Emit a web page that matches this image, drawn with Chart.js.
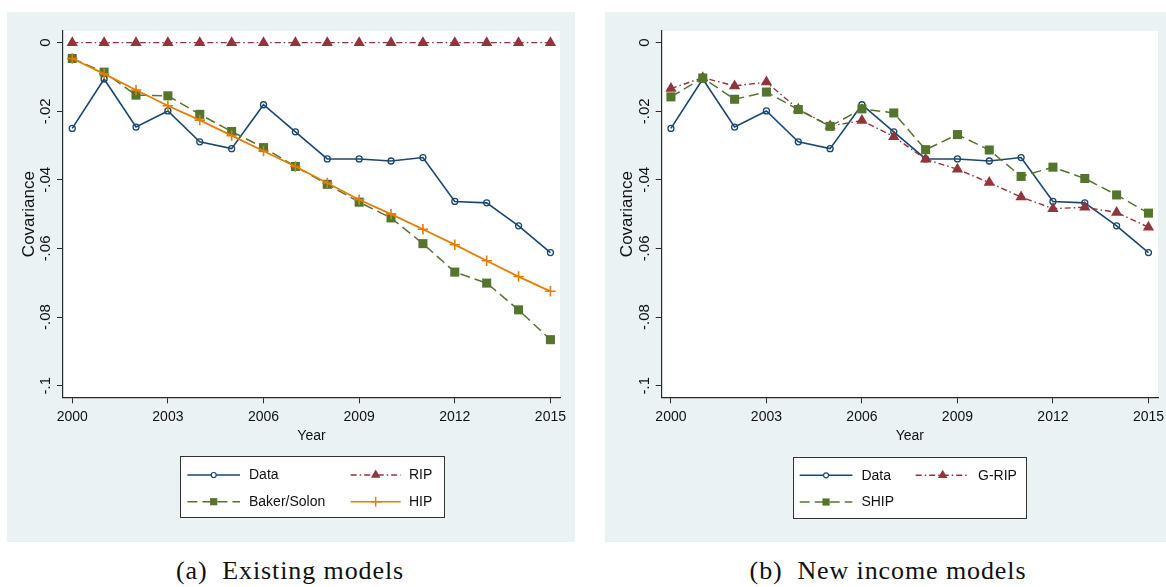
<!DOCTYPE html>
<html>
<head>
<meta charset="utf-8">
<script src="https://cdn.jsdelivr.net/npm/chart.js@4/dist/chart.umd.min.js"></script>
<style>
  html, body { margin: 0; padding: 0; background: #ffffff; }
  body { width: 1166px; height: 587px; position: relative; overflow: hidden; }
  .panel { position: absolute; top: 12px; height: 530px; background: #eaf2f3; }
  .panel canvas { display: block; }
  .caption {
    position: absolute; top: 558px; height: 28px; line-height: 26px;
    font-family: "Liberation Serif", "DejaVu Serif", serif; font-size: 26px;
    color: #111; text-align: center; white-space: pre; letter-spacing: 0.9px;
  }
</style>
</head>
<body>
<div class="panel" style="left:7px;width:568px;"><canvas id="chartA" width="568" height="530"></canvas></div>
<div class="panel" style="left:605px;width:566px;"><canvas id="chartB" width="566" height="530"></canvas></div>
<div class="caption" style="left:140px;width:300px;">(a)  Existing models</div>
<div class="caption" style="left:738px;width:300px;">(b)  New income models</div>

<script>
// Survey years
const years = [2000, 2001, 2002, 2003, 2004, 2005, 2006, 2007, 2008, 2009, 2010, 2011, 2012, 2013, 2014, 2015];

// Covariance series
const dataCov    = [-0.0250, -0.0106, -0.0246, -0.0199, -0.0289, -0.0309, -0.0181, -0.0260, -0.0339, -0.0339, -0.0345, -0.0335, -0.0463, -0.0467, -0.0534, -0.0612];
const bakerSolon = [-0.0046, -0.0086, -0.0153, -0.0155, -0.0209, -0.0259, -0.0306, -0.0361, -0.0413, -0.0465, -0.0511, -0.0586, -0.0669, -0.0701, -0.0779, -0.0866];
const rip        = [0, 0, 0, 0, 0, 0, 0, 0, 0, 0, 0, 0, 0, 0, 0, 0];
const hip        = [-0.0046, -0.0091, -0.0138, -0.0184, -0.0226, -0.0271, -0.0316, -0.0361, -0.0409, -0.0458, -0.0500, -0.0544, -0.0589, -0.0636, -0.0682, -0.0725];
const gRip       = [-0.0134, -0.0102, -0.0126, -0.0115, -0.0194, -0.0243, -0.0227, -0.0274, -0.0340, -0.0369, -0.0408, -0.0450, -0.0484, -0.0480, -0.0495, -0.0538];
const ship       = [-0.0158, -0.0103, -0.0165, -0.0144, -0.0195, -0.0244, -0.0193, -0.0205, -0.0312, -0.0268, -0.0313, -0.0390, -0.0363, -0.0396, -0.0444, -0.0497];

// Axis ticks
const xTickValues = [2000, 2003, 2006, 2009, 2012, 2015];
const yTickValues = [0, -0.02, -0.04, -0.06, -0.08, -0.1];
const yTickLabels = ['0', '-.02', '-.04', '-.06', '-.08', '-.1'];

const NAVY = '#1a476f', MAROON = '#90353b', GREEN = '#55752f', ORANGE = '#e37e00';
const SANS = '"Liberation Sans", Arial, sans-serif';
const AXIS = '#2a2a2a';

const toPoints = vals => years.map((y, i) => ({ x: y, y: vals[i] }));

const styles = {
  data:  { color: NAVY,   width: 1.6, dash: [],            marker: 'circle',   r: 3,   fill: 'rgba(255,255,255,0)', pbw: 1.3 },
  bs:    { color: GREEN,  width: 1.5, dash: [10, 5],       marker: 'rect',     r: 6.4, fill: GREEN, pbw: 1 },
  rip:   { color: MAROON, width: 1.4, dash: [6, 3, 1.5, 3], marker: 'triangle', r: 6.5, fill: MAROON, pbw: 1 },
  hip:   { color: ORANGE, width: 1.8, dash: [],            marker: 'cross',    r: 5.2, fill: ORANGE, pbw: 1.6 }
};

function makeDataset(label, vals, st, order) {
  return {
    label, data: toPoints(vals), order,
    borderColor: st.color, borderWidth: st.width, borderDash: st.dash,
    pointStyle: st.marker, pointRadius: st.r, pointHoverRadius: st.r,
    pointBackgroundColor: st.fill,
    pointBorderColor: st.marker === 'rect' || st.marker === 'triangle' ? 'rgba(150,170,120,0.0)' : st.color,
    pointBorderWidth: st.pbw, tension: 0, fill: false, clip: false,
    _st: st
  };
}

// White plot region on the tinted graph region
const plotRegion = {
  id: 'plotRegion',
  beforeDraw(chart) {
    const { ctx, chartArea: a } = chart;
    ctx.save();
    ctx.fillStyle = '#ffffff';
    ctx.fillRect(a.left, a.top, a.right - a.left, a.bottom - a.top);
    ctx.restore();
  }
};

function drawMarker(ctx, st, x, y, r) {
  ctx.save();
  ctx.setLineDash([]);
  ctx.strokeStyle = st.color;
  ctx.fillStyle = st.color;
  if (st.marker === 'circle') {
    ctx.lineWidth = 1.2;
    ctx.fillStyle = '#fff';
    ctx.beginPath(); ctx.arc(x, y, r, 0, Math.PI * 2); ctx.fill(); ctx.stroke();
  } else if (st.marker === 'rect') {
    ctx.fillRect(x - r, y - r, 2 * r, 2 * r);
  } else if (st.marker === 'triangle') {
    ctx.beginPath();
    for (let k = 0; k < 3; k++) {
      const ang = k * 2 * Math.PI / 3;
      const px = x + Math.sin(ang) * r, py = y - Math.cos(ang) * r;
      k ? ctx.lineTo(px, py) : ctx.moveTo(px, py);
    }
    ctx.closePath(); ctx.fill();
  } else if (st.marker === 'cross') {
    ctx.lineWidth = 1.4;
    ctx.beginPath();
    ctx.moveTo(x - r, y); ctx.lineTo(x + r, y);
    ctx.moveTo(x, y - r); ctx.lineTo(x, y + r);
    ctx.stroke();
  }
  ctx.restore();
}

// Boxed two-column legend under the x-axis title
const boxLegend = {
  id: 'boxLegend',
  afterDraw(chart, args, opts) {
    if (!opts || !opts.items) return;
    const { ctx, chartArea: a } = chart;
    const cx = (a.left + a.right) / 2;
    const bx = Math.round(cx - opts.width / 2), by = Math.round(a.bottom + opts.top);
    ctx.save();
    ctx.fillStyle = '#ffffff';
    ctx.fillRect(bx, by, opts.width, opts.height);
    ctx.strokeStyle = '#333333';
    ctx.lineWidth = 1;
    ctx.strokeRect(bx + 0.5, by + 0.5, opts.width, opts.height);
    ctx.font = '14px ' + SANS;
    ctx.textBaseline = 'middle';
    ctx.textAlign = 'left';
    opts.items.forEach(it => {
      const ds = chart.data.datasets[it.index];
      const st = ds._st;
      const col = opts.cols[it.col];
      const y = by + opts.rows[it.row];
      const x0 = bx + col.sample, x1 = x0 + col.len;
      ctx.save();
      ctx.strokeStyle = st.color;
      ctx.lineWidth = Math.min(st.width, 1.5);
      ctx.setLineDash(st.dash);
      ctx.beginPath(); ctx.moveTo(x0, y); ctx.lineTo(x1, y); ctx.stroke();
      ctx.restore();
      const mr = { circle: 2.5, rect: 3.6, triangle: 5.5, cross: 5 }[st.marker];
      drawMarker(ctx, st, (x0 + x1) / 2, y, mr);
      ctx.fillStyle = '#111';
      ctx.fillText(ds.label, bx + col.text, y + 0.5);
    });
    ctx.restore();
  }
};

function buildChart(canvasId, datasets, legendOpts, layoutRight, yWidth) {
  return new Chart(document.getElementById(canvasId), {
    type: 'line',
    data: { datasets },
    plugins: [plotRegion, boxLegend],
    options: {
      responsive: false, animation: false,
      devicePixelRatio: 1,
      layout: { padding: { top: 19, right: layoutRight, left: 0, bottom: 97.7 } },
      plugins: {
        legend: { display: false }, tooltip: { enabled: false },
        boxLegend: legendOpts
      },
      scales: {
        x: {
          type: 'linear', min: 1999.71, max: 2015.30,
          afterBuildTicks: s => { s.ticks = xTickValues.map(v => ({ value: v })); },
          afterFit: s => { s.height = 47; },
          ticks: { autoSkip: false, maxRotation: 0, padding: 5, color: '#111',
                   font: { family: SANS, size: 14 }, callback: v => String(v) },
          grid: { display: true, drawOnChartArea: false, drawTicks: true, tickLength: 6, color: AXIS, lineWidth: 1 },
          border: { display: true, color: AXIS, width: 1.2 },
          title: { display: true, text: 'Year', color: '#111', padding: { top: 0, bottom: 0 },
                   font: { family: SANS, size: 14 } }
        },
        y: {
          type: 'linear', min: -0.1034, max: 0.0034,
          afterBuildTicks: s => { s.ticks = yTickValues.map(v => ({ value: v })); },
          afterFit: s => { s.width = yWidth; },
          ticks: { autoSkip: false, minRotation: 90, maxRotation: 90, crossAlign: 'center', padding: -2,
                   color: '#111', font: { family: SANS, size: 15 },
                   callback: (v) => { const i = yTickValues.findIndex(t => Math.abs(t - v) < 1e-9); return i >= 0 ? yTickLabels[i] : ''; } },
          grid: { display: true, drawOnChartArea: false, drawTicks: true, tickLength: 6, color: AXIS, lineWidth: 1 },
          border: { display: true, color: AXIS, width: 1.2 },
          title: { display: true, text: 'Covariance', color: '#111', padding: { top: 12.3, bottom: 0 },
                   font: { family: SANS, size: 17 } }
        }
      }
    }
  });
}

// (a) Existing models
buildChart('chartA', [
  makeDataset('Data', dataCov, styles.data, 4),
  makeDataset('RIP', rip, styles.rip, 2),
  makeDataset('Baker/Solon', bakerSolon, styles.bs, 3),
  makeDataset('HIP', hip, styles.hip, 1)
], {
  width: 264, height: 61, top: 58.7,
  rows: [19, 45.7],
  cols: [{ sample: 7.4, len: 52.6, text: 69 }, { sample: 170.7, len: 50, text: 229 }],
  items: [{ index: 0, col: 0, row: 0 }, { index: 1, col: 1, row: 0 },
          { index: 2, col: 0, row: 1 }, { index: 3, col: 1, row: 1 }]
}, 15, 56);

// (b) New income models
buildChart('chartB', [
  makeDataset('Data', dataCov, styles.data, 3),
  makeDataset('G-RIP', gRip, styles.rip, 2),
  makeDataset('SHIP', ship, styles.bs, 1)
], {
  width: 233, height: 61, top: 59.4,
  rows: [18.3, 45],
  cols: [{ sample: 6.7, len: 52.7, text: 68.4 }, { sample: 122.7, len: 54, text: 185 }],
  items: [{ index: 0, col: 0, row: 0 }, { index: 1, col: 1, row: 0 },
          { index: 2, col: 0, row: 1 }]
}, 13, 56.7);
</script>
</body>
</html>
